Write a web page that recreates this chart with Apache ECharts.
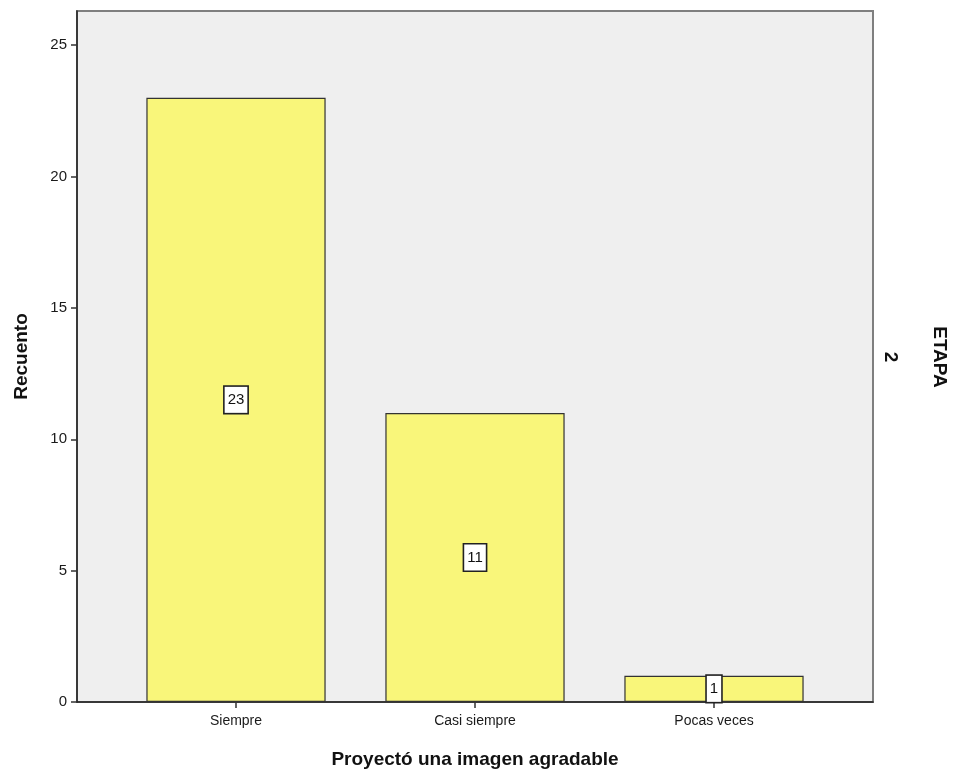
<!DOCTYPE html>
<html>
<head>
<meta charset="utf-8">
<script src="https://cdn.jsdelivr.net/npm/echarts@6/dist/echarts.min.js"></script>
<style>
  html, body { margin: 0; padding: 0; background: #fff; }
  #chart { width: 957px; height: 774px; }
</style>
</head>
<body>
<div id="chart"></div>
<script>
// datos
var categorias = ['Siempre', 'Casi siempre', 'Pocas veces'];
var recuento = [23, 11, 1];
var ticksY = [0, 5, 10, 15, 20, 25];

var fuente = 'Arial, "Liberation Sans", sans-serif';
var yMax = 26.3;

var myChart = echarts.init(document.getElementById('chart'));

var option = {
    backgroundColor: '#ffffff',
    animation: false,
    grid: [
        // marco del grafico
        { left: 77, right: 84, top: 11, bottom: 72, show: true,
          backgroundColor: '#efefef', borderColor: '#7f7f7f', borderWidth: 2 },
        // area de las barras
        { left: 116.5, width: 717, top: 11, bottom: 72 }
    ],
    xAxis: [
        { gridIndex: 0, type: 'value', min: 0, max: 1,
          axisLine: { show: true, onZero: false, lineStyle: { color: '#222', width: 1.5 } },
          axisTick: { show: false }, axisLabel: { show: false }, splitLine: { show: false } },
        { gridIndex: 1, type: 'category', data: categorias,
          axisLine: { show: false },
          axisTick: { show: true, alignWithLabel: true, length: 6, lineStyle: { color: '#333', width: 1.5 } },
          axisLabel: { color: '#1a1a1a', fontSize: 14, fontFamily: fuente, margin: 12 },
          name: 'Proyectó una imagen agradable', nameLocation: 'middle', nameGap: 48,
          nameTextStyle: { color: '#111', fontSize: 19, fontWeight: 'bold', fontFamily: fuente } }
    ],
    yAxis: [
        { gridIndex: 0, type: 'value', min: 0, max: yMax,
          axisLine: { show: true, lineStyle: { color: '#222', width: 1.5 } },
          axisTick: { show: true, length: 6, customValues: ticksY, lineStyle: { color: '#333', width: 1.5 } },
          axisLabel: { color: '#1a1a1a', fontSize: 15, fontFamily: fuente, margin: 10, customValues: ticksY },
          splitLine: { show: false },
          name: 'Recuento', nameLocation: 'middle', nameGap: 46,
          nameTextStyle: { color: '#111', fontSize: 19, fontWeight: 'bold', fontFamily: fuente } },
        { gridIndex: 1, type: 'value', min: 0, max: yMax, show: false }
    ],
    series: [{
        type: 'bar',
        xAxisIndex: 1,
        yAxisIndex: 1,
        data: recuento,
        barWidth: '75%',
        itemStyle: { color: '#f9f67a', borderColor: '#333', borderWidth: 1.2 },
        label: {
            show: true,
            position: 'inside',
            color: '#111',
            fontSize: 15,
            fontFamily: fuente,
            backgroundColor: '#ffffff',
            borderColor: '#222',
            borderWidth: 1.6,
            padding: [6, 3, 5, 3]
        }
    }],
    graphic: [
        { type: 'text', x: 939, y: 357, rotation: -Math.PI / 2,
          style: { text: 'ETAPA', fontSize: 19, fontWeight: 'bold', fontFamily: fuente, fill: '#111',
                   textAlign: 'center', textVerticalAlign: 'middle' } },
        { type: 'text', x: 890, y: 357, rotation: -Math.PI / 2,
          style: { text: '2', fontSize: 19, fontWeight: 'bold', fontFamily: fuente, fill: '#111',
                   textAlign: 'center', textVerticalAlign: 'middle' } }
    ]
};

myChart.setOption(option);
</script>
</body>
</html>
